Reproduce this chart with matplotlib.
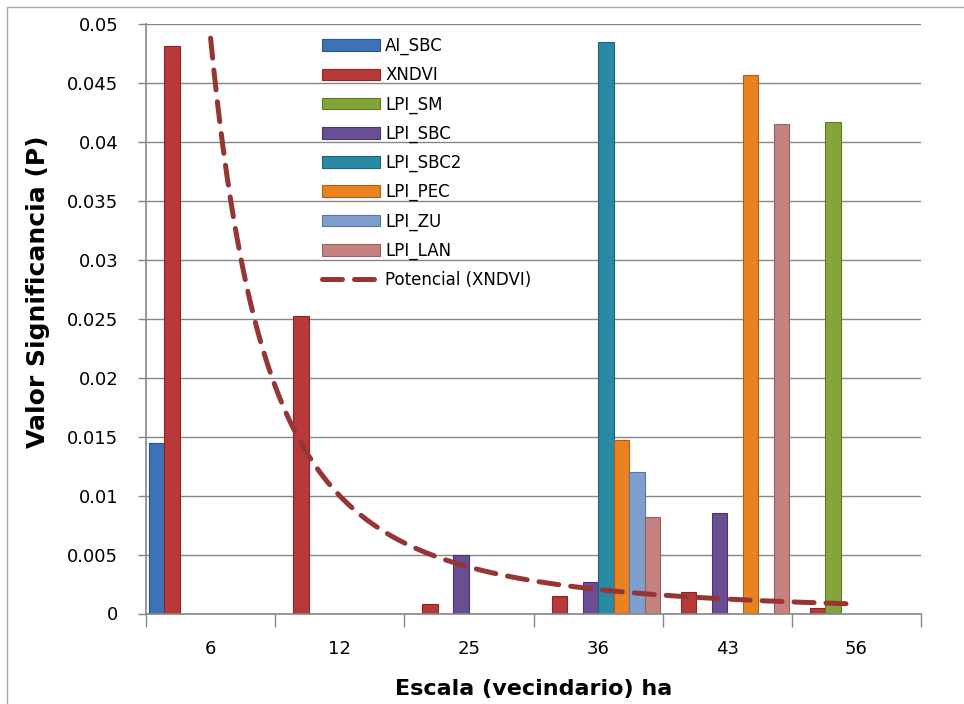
import numpy as np
import matplotlib.pyplot as plt
from matplotlib.patches import Rectangle

# Datos (valores P por escala)
categorias = ['6', '12', '25', '36', '43', '56']
nan = np.nan
ai_sbc = [0.0145, nan, nan, nan, nan, nan]
xndvi = [0.0481, 0.0252, 0.0008, 0.0015, 0.0018, 0.0005]
lpi_sm = [nan, nan, nan, nan, nan, 0.0417]
lpi_sbc = [nan, nan, 0.0050, 0.0027, 0.0085, nan]
lpi_sbc2 = [nan, nan, nan, 0.0485, nan, nan]
lpi_pec = [nan, nan, nan, 0.0147, 0.0457, nan]
lpi_zu = [nan, nan, nan, 0.0120, nan, nan]
lpi_lan = [nan, nan, nan, 0.0082, 0.0415, nan]

# Linea de tendencia potencial (XNDVI): y = a * x^b, coeficientes leidos
trend_a = 0.0488
trend_b = -2.29

series = [
    ('AI_SBC', ai_sbc, '#3D72B7', '#2A548C'),
    ('XNDVI', xndvi, '#B8393A', '#8A2624'),
    ('LPI_SM', lpi_sm, '#84A53A', '#5F7A26'),
    ('LPI_SBC', lpi_sbc, '#6A4E94', '#4B356D'),
    ('LPI_SBC2', lpi_sbc2, '#2A8AA4', '#1C6478'),
    ('LPI_PEC', lpi_pec, '#EA821F', '#B25F12'),
    ('LPI_ZU', lpi_zu, '#7F9FCF', '#5A77A3'),
    ('LPI_LAN', lpi_lan, '#C48280', '#966160'),
]

gris = '#868686'

fig = plt.figure(figsize=(9.64, 7.04), dpi=100)
ax = fig.add_axes([146 / 964, 1 - 613.5 / 704, 775 / 964, 589.5 / 704])

x = np.arange(len(categorias))
ancho = 0.12
handles = []
for i, (nombre, valores, color, borde) in enumerate(series):
    b = ax.bar(x + (i - 3.5) * ancho, valores, width=ancho, color=color,
               edgecolor=borde, linewidth=0.8, label=nombre, zorder=2)
    handles.append(b)

# tendencia sobre las categorias (x = 1..6 como en Excel)
xt = np.linspace(1, len(categorias), 200)
linea, = ax.plot(xt - 1, trend_a * xt ** trend_b, color='#963634', linewidth=3.6,
                 linestyle=(0, (4, 2.4)), dash_capstyle='round',
                 label='Potencial (XNDVI)', zorder=3)
handles.append(linea)

ax.set_xlim(-0.5, len(categorias) - 0.5)
ax.set_ylim(0, 0.05)

yt = np.arange(0, 0.0501, 0.005)
ax.set_yticks(yt)
ax.set_yticklabels([f'{v:g}' for v in yt])
ax.set_xticks(x)
ax.set_xticklabels(categorias)
ax.set_xticks(np.arange(-0.5, len(categorias), 1), minor=True)

ax.tick_params(axis='y', length=6, color=gris, width=1, pad=14, labelsize=13)
ax.tick_params(axis='x', which='major', length=0, pad=19, labelsize=13)
ax.tick_params(axis='x', which='minor', length=9, color=gris, width=1)

ax.grid(axis='y', color=gris, linewidth=1)
ax.set_axisbelow(True)
for s in ['top', 'right']:
    ax.spines[s].set_visible(False)
for s in ['left', 'bottom']:
    ax.spines[s].set_color(gris)
    ax.spines[s].set_linewidth(1.2)

ax.set_xlabel('Escala (vecindario) ha', fontsize=16, fontweight='bold', labelpad=15)
ax.set_ylabel('Valor Significancia (P)', fontsize=18, fontweight='bold')
ax.yaxis.set_label_coords(-0.124, 0.545)

ax.legend(handles=handles, loc='upper left', bbox_to_anchor=(0.227, 0.978),
          frameon=False, fontsize=12, borderpad=0, borderaxespad=0,
          handlelength=3.5, handletextpad=0.3, labelspacing=0.66)

fig.patches.append(Rectangle((7 / 964, -0.02), 1.0, 1.02 - 6.5 / 704,
                             transform=fig.transFigure, fill=False,
                             edgecolor='#A6A6A6', linewidth=1))

fig.savefig('out.png', dpi=100)
